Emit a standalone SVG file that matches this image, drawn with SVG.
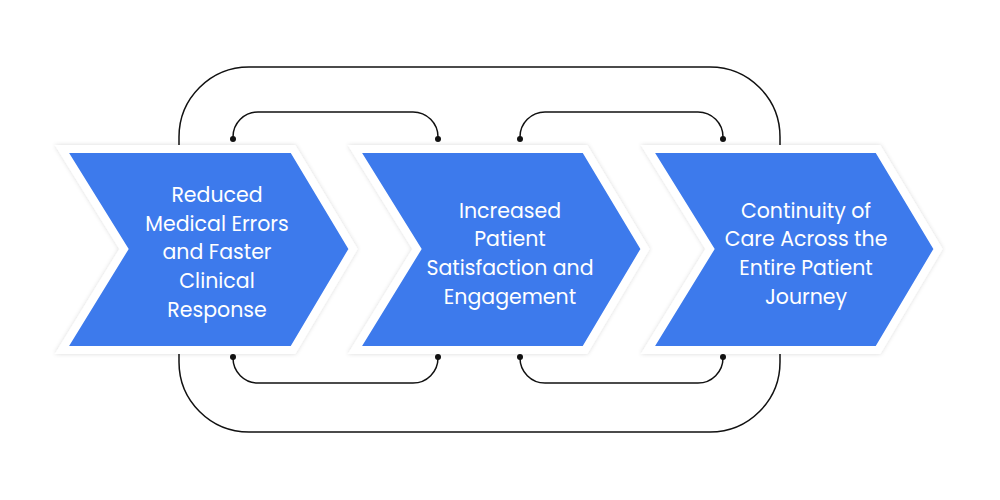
<svg xmlns="http://www.w3.org/2000/svg" width="1000" height="500" viewBox="0 0 1000 500">
<defs>
<style>
.ln{fill:none;stroke:#111;stroke-width:1.5}
.dot{fill:#111}
.ch{fill:#3d7aec;stroke:#fff;stroke-width:8;stroke-linejoin:miter;filter:url(#sh)}
.t{font-family:Poppins,"Open Sans","Liberation Sans",sans-serif;font-size:20.5px;fill:#fff;text-anchor:middle}
</style>
<filter id="sh" x="-10%" y="-10%" width="120%" height="120%"><feDropShadow dx="0" dy="0" stdDeviation="2" flood-color="#000" flood-opacity="0.15"/></filter>
</defs>
<rect width="1000" height="500" fill="#fff"/>
<g id="connectors">
<rect class="ln" x="179" y="67" width="601" height="365" rx="70"/>
<path class="ln" d="M233,139 V137 A25,25 0 0 1 258,112 H413 A25,25 0 0 1 438,137 V139"/>
<path class="ln" d="M520,139 V137 A25,25 0 0 1 545,112 H698 A25,25 0 0 1 723,137 V139"/>
<path class="ln" d="M233,357 V358 A25,25 0 0 0 258,383 H413 A25,25 0 0 0 438,358 V357"/>
<path class="ln" d="M520,357 V358 A25,25 0 0 0 545,383 H698 A25,25 0 0 0 723,358 V357"/>
<circle class="dot" cx="233" cy="139" r="3"/><circle class="dot" cx="438" cy="139" r="3"/>
<circle class="dot" cx="520" cy="139" r="3"/><circle class="dot" cx="723" cy="139" r="3"/>
<circle class="dot" cx="233" cy="357" r="3"/><circle class="dot" cx="438" cy="357" r="3"/>
<circle class="dot" cx="520" cy="357" r="3"/><circle class="dot" cx="723" cy="357" r="3"/>
</g>
<g id="node1">
<polygon class="ch" points="62,149 293,149 353,249 293,350 62,350 124,249"/>
<text class="t" x="217"><tspan x="217" y="202">Reduced</tspan><tspan x="217" y="231">Medical Errors</tspan><tspan x="217" y="259">and Faster</tspan><tspan x="217" y="288">Clinical</tspan><tspan x="217" y="317">Response</tspan></text>
</g>
<g id="node2">
<polygon class="ch" points="355,149 585,149 645,249 585,350 355,350 417,249"/>
<text class="t"><tspan x="510" y="218">Increased</tspan><tspan x="510" y="246">Patient</tspan><tspan x="510" y="275">Satisfaction and</tspan><tspan x="510" y="304">Engagement</tspan></text>
</g>
<g id="node3">
<polygon class="ch" points="648,149 878,149 938,249 878,350 648,350 710,249"/>
<text class="t"><tspan x="806" y="218">Continuity of</tspan><tspan x="806" y="246">Care Across the</tspan><tspan x="806" y="275">Entire Patient</tspan><tspan x="806" y="304">Journey</tspan></text>
</g>
</svg>
